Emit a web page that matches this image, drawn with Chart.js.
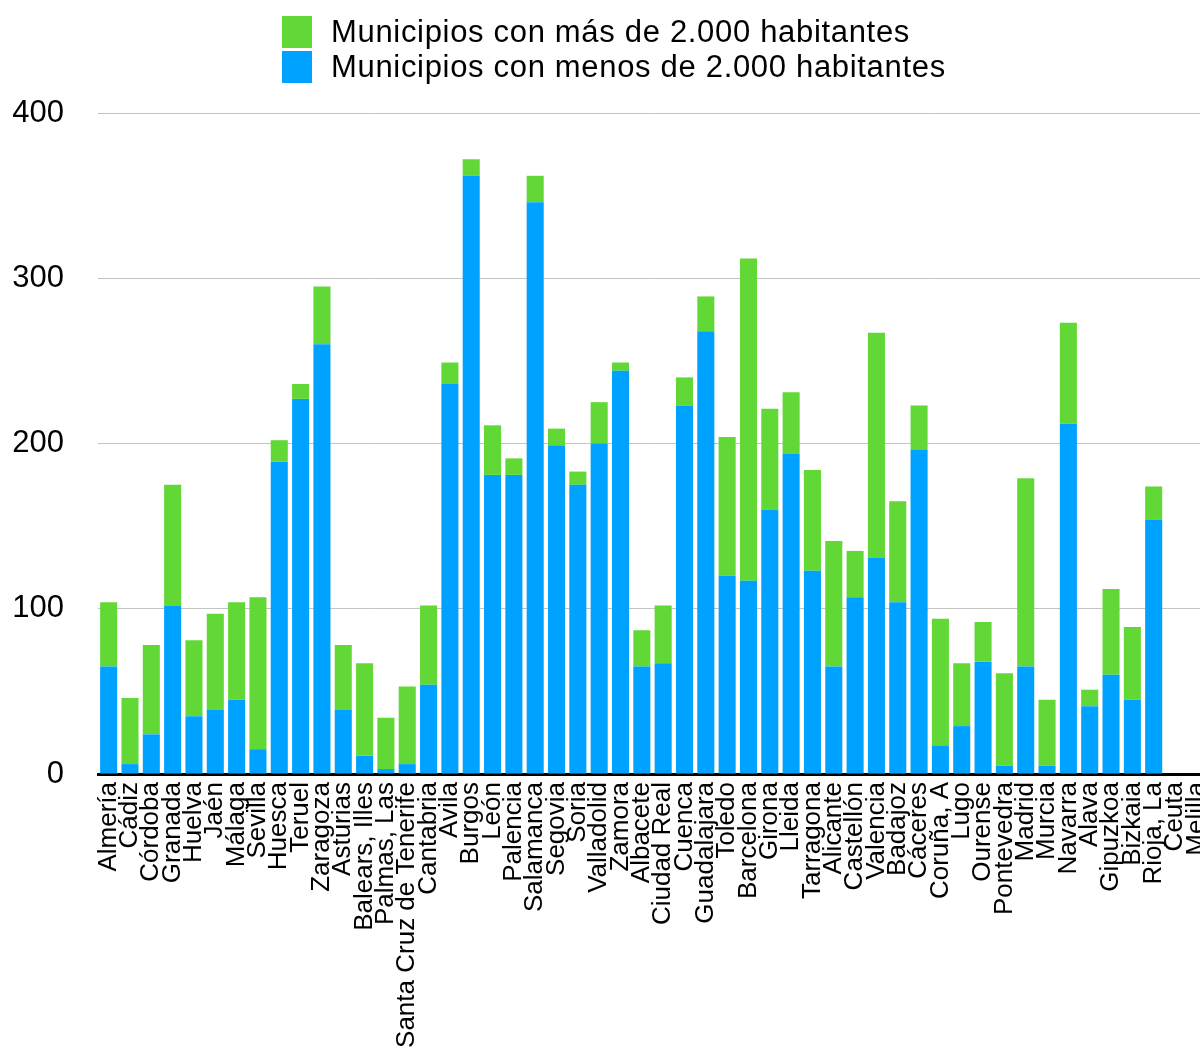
<!DOCTYPE html>
<html lang="es">
<head>
<meta charset="utf-8">
<title>Municipios por provincia</title>
<script src="https://cdn.jsdelivr.net/npm/chart.js@4.4.1/dist/chart.umd.min.js"></script>
<style>
  html, body { margin: 0; padding: 0; background: #fff; overflow: hidden; width: 1200px; height: 1055px; }
  #wrap { position: relative; width: 1200px; height: 1055px; overflow: hidden; }
  #grafico { position: absolute; left: 0; top: 0; }
  #leyenda { position: absolute; left: 282px; top: 14px; font-family: "Liberation Sans", Arial, Helvetica, sans-serif; font-size: 31px; letter-spacing: 0.68px; color: #000; }
  .fila { position: relative; height: 35px; line-height: 35px; white-space: nowrap; }
  .caja { position: absolute; left: 0; top: 2px; width: 30px; height: 32px; }
  .texto { position: absolute; left: 49px; top: 0; }
</style>
</head>
<body>
<div id="wrap">
  <canvas id="grafico" width="1210" height="1055"></canvas>
  <div id="leyenda"></div>
</div>
<script>
// Provincias (orden por comunidad autónoma)
const provincias = [
  "Almería", "Cádiz", "Córdoba", "Granada", "Huelva", "Jaén", "Málaga", "Sevilla",
  "Huesca", "Teruel", "Zaragoza", "Asturias", "Balears, Illes", "Palmas, Las",
  "Santa Cruz de Tenerife", "Cantabria", "Avila", "Burgos", "León", "Palencia",
  "Salamanca", "Segovia", "Soria", "Valladolid", "Zamora", "Albacete", "Ciudad Real",
  "Cuenca", "Guadalajara", "Toledo", "Barcelona", "Girona", "Lleida", "Tarragona",
  "Alicante", "Castellón", "Valencia", "Badajoz", "Cáceres", "Coruña, A", "Lugo",
  "Ourense", "Pontevedra", "Madrid", "Murcia", "Navarra", "Alava", "Gipuzkoa",
  "Bizkaia", "Rioja, La", "Ceuta", "Melilla"
];

// Municipios con menos de 2.000 habitantes
const menosDe2000 = [
  65, 6, 24, 102, 35, 39, 45, 15,
  189, 227, 260, 39, 11, 3,
  6, 54, 236, 362, 181, 181,
  346, 199, 175, 200, 244, 65, 67,
  223, 268, 120, 117, 160, 194, 123,
  65, 107, 131, 104, 196, 17, 29,
  68, 5, 65, 5, 212, 41, 60,
  45, 154, 0, 0
];

// Municipios con más de 2.000 habitantes
const masDe2000 = [
  39, 40, 54, 73, 46, 58, 59, 92,
  13, 9, 35, 39, 56, 31,
  47, 48, 13, 10, 30, 10,
  16, 10, 8, 25, 5, 22, 35,
  17, 21, 84, 195, 61, 37, 61,
  76, 28, 136, 61, 27, 77, 38,
  24, 56, 114, 40, 61, 10, 52,
  44, 20, 0, 0
];

const etiquetasSeries = [
  "Municipios con menos de 2.000 habitantes",
  "Municipios con más de 2.000 habitantes"
];

const ticksY = [0, 100, 200, 300, 400];

const AZUL = "#00a2ff";
const VERDE = "#62d837";
const FUENTE = '"Liberation Sans", Arial, Helvetica, sans-serif';

const grafico = new Chart(document.getElementById("grafico"), {
  type: "bar",
  data: {
    labels: provincias,
    datasets: [
      { label: etiquetasSeries[0], data: menosDe2000, backgroundColor: AZUL, borderWidth: 0, barPercentage: 0.8, categoryPercentage: 1.0 },
      { label: etiquetasSeries[1], data: masDe2000, backgroundColor: VERDE, borderWidth: 0, barPercentage: 0.8, categoryPercentage: 1.0 }
    ]
  },
  options: {
    responsive: false,
    animation: false,
    devicePixelRatio: 1,
    layout: { padding: { top: 113, left: 0, right: 3, bottom: 0 } },
    plugins: {
      legend: { display: false },
      tooltip: { enabled: false }
    },
    scales: {
      x: {
        stacked: true,
        grid: { display: false, drawTicks: false },
        border: { display: true, color: "#000", width: 3 },
        ticks: {
          autoSkip: false,
          maxRotation: 90,
          minRotation: 90,
          padding: 8,
          color: "#000",
          font: { family: FUENTE, size: 26 }
        },
        afterFit: (escala) => {
          escala.height = 281;
          escala.paddingLeft = 0;
          escala.paddingRight = 0;
        }
      },
      y: {
        stacked: true,
        min: ticksY[0],
        max: ticksY[ticksY.length - 1],
        afterBuildTicks: (escala) => { escala.ticks = ticksY.map(v => ({ value: v })); },
        grid: { color: "#c4c4c4", lineWidth: 1, drawTicks: false },
        border: { display: false },
        ticks: {
          padding: 34,
          color: "#000",
          font: { family: FUENTE, size: 31 }
        },
        afterFit: (escala) => { escala.width = 98; }
      }
    }
  }
});

// Leyenda: la serie superior de la pila aparece primero
const leyenda = document.getElementById("leyenda");
grafico.data.datasets.slice().reverse().forEach((ds) => {
  const fila = document.createElement("div");
  fila.className = "fila";
  const caja = document.createElement("span");
  caja.className = "caja";
  caja.style.background = ds.backgroundColor;
  const texto = document.createElement("span");
  texto.className = "texto";
  texto.textContent = ds.label;
  fila.appendChild(caja);
  fila.appendChild(texto);
  leyenda.appendChild(fila);
});
</script>
</body>
</html>
